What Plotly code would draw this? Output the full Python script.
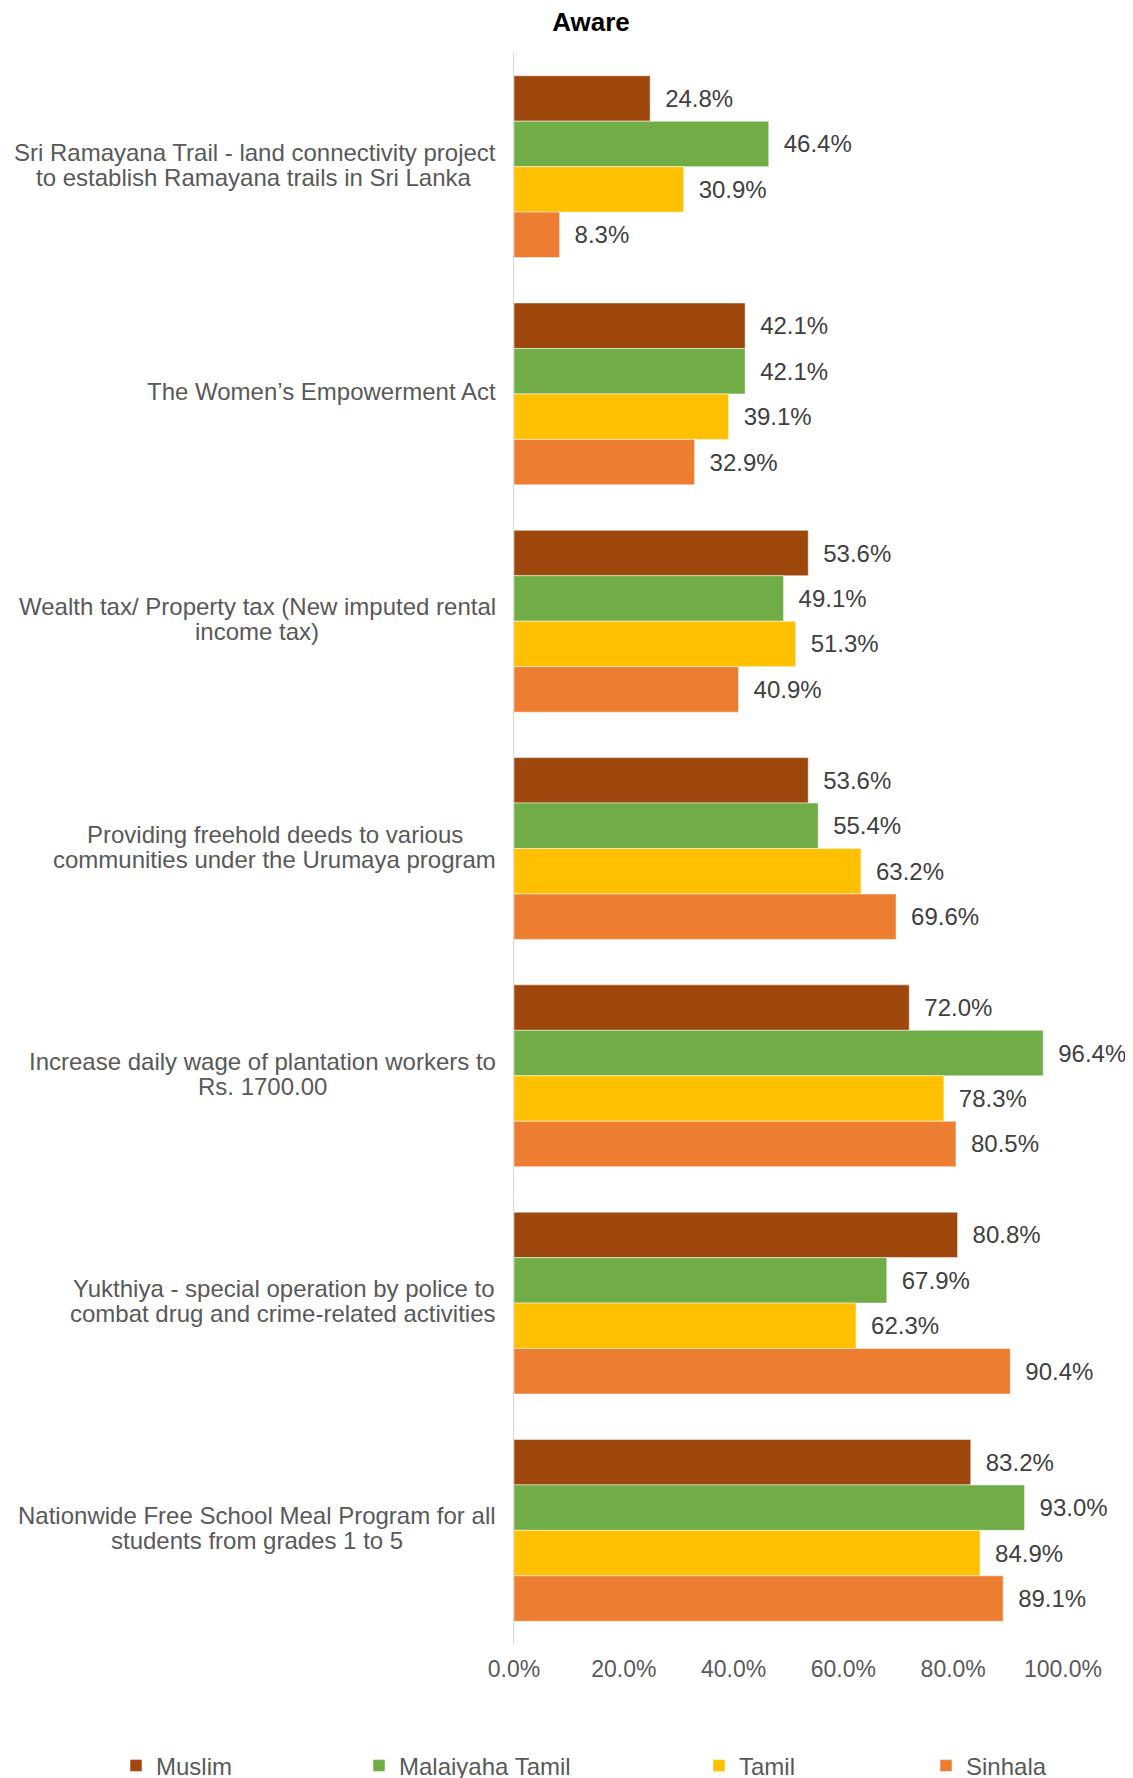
import plotly.graph_objects as go

categories = [
    "Sri Ramayana Trail - land connectivity project<br>to establish Ramayana trails in Sri Lanka",
    "The Women’s Empowerment Act",
    "Wealth tax/ Property tax (New imputed rental<br>income tax)",
    "Providing freehold deeds to various<br>communities under the Urumaya program",
    "Increase daily wage of plantation workers to<br>Rs. 1700.00",
    "Yukthiya - special operation by police to<br>combat drug and crime-related activities",
    "Nationwide Free School Meal Program for all<br>students from grades 1 to 5",
]

series_names = ["Muslim", "Malaiyaha Tamil", "Tamil", "Sinhala"]
muslim = [24.8, 42.1, 53.6, 53.6, 72.0, 80.8, 83.2]
malaiyaha_tamil = [46.4, 42.1, 49.1, 55.4, 96.4, 67.9, 93.0]
tamil = [30.9, 39.1, 51.3, 63.2, 78.3, 62.3, 84.9]
sinhala = [8.3, 32.9, 40.9, 69.6, 80.5, 90.4, 89.1]
series_values = [muslim, malaiyaha_tamil, tamil, sinhala]
colors = ["#9E480E", "#70AD47", "#FFC000", "#ED7D31"]

tick_vals = [0, 0.2, 0.4, 0.6, 0.8, 1.0]

FONT = "Liberation Sans, Arial, Helvetica, sans-serif"
W, H = 1133, 1778
OFF = 8  # page body margin
L, R, T, B = 514 - OFF, 70 + OFF, 53 - OFF, 134 + OFF

legend_text_x = [158, 401, 741, 968]
LABEL_SIZE = 24

# Arial / Liberation Sans advance widths (per 1000 em) used to centre wrapped label lines
_W = {" ": 278, "-": 333, ".": 278, "/": 278, "(": 333, ")": 333, "’": 222, "'": 191}
_W.update({d: 556 for d in "0123456789"})
_W.update(dict(zip("ABCDEFGHIJKLMNOPQRSTUVWXYZ",
                   [667, 667, 722, 722, 667, 611, 778, 722, 278, 500, 667, 556, 833,
                    722, 778, 667, 778, 722, 667, 611, 722, 667, 944, 667, 667, 611])))
_W.update(dict(zip("abcdefghijklmnopqrstuvwxyz",
                   [556, 556, 500, 556, 556, 278, 556, 556, 222, 222, 500, 222, 833,
                    556, 556, 556, 556, 333, 500, 278, 556, 500, 722, 500, 500, 500])))


def text_width(s, size):
    return sum(_W.get(c, 556) for c in s) * size / 1000.0


fig = go.Figure()
for i, (name, vals, col) in enumerate(zip(series_names, series_values, colors)):
    lg = "legend" if i == 0 else f"legend{i+1}"
    fig.add_trace(go.Bar(
        y=categories,
        x=[v / 100 for v in vals],
        name=name,
        orientation="h",
        marker=dict(color=col, line=dict(color="white", width=0.5)),
        texttemplate="\u2002%{x:.1%}",
        textposition="outside",
        textfont=dict(family=FONT, size=24, color="#404040"),
        cliponaxis=False,
        legend=lg,
    ))

legends = {}
for i in range(4):
    key = "legend" if i == 0 else f"legend{i+1}"
    legends[key] = dict(
        xref="container", yref="container",
        x=(legend_text_x[i] - 42 - OFF) / W, xanchor="left",
        y=1 - (1766 - OFF) / H, yanchor="middle",
        orientation="h",
        font=dict(family=FONT, size=24, color="#595959"),
        bgcolor="rgba(0,0,0,0)",
        itemclick=False,
    )

# Category labels: one annotation per line, lines centred on each other,
# block right-aligned next to the axis, with tight line spacing.
line_spacing = 25.0
for cat in categories:
    lines = cat.split("<br>")
    n = len(lines)
    widths = [text_width(ln, LABEL_SIZE) for ln in lines]
    wmax = max(widths)
    for k, ln in enumerate(lines):
        fig.add_annotation(
            x=0, xref="paper", y=cat, yref="y",
            text=ln, showarrow=False,
            xanchor="right", yanchor="middle", align="right",
            xshift=-16 - (wmax - widths[k]) / 2,
            yshift=((n - 1) / 2 - k) * line_spacing + 2,
            font=dict(family=FONT, size=LABEL_SIZE, color="#595959"),
        )

fig.update_layout(
    width=W, height=H,
    margin=dict(l=L, r=R, t=T, b=B, pad=0),
    paper_bgcolor="white", plot_bgcolor="white",
    barmode="group", bargap=0.2, bargroupgap=0,
    title=dict(text="<b>Aware</b>", x=(591 - OFF) / W, xanchor="center",
               y=1 - (22 - OFF) / H, yanchor="middle", xref="container", yref="container",
               font=dict(family=FONT, size=26, color="black")),
    showlegend=True,
    **legends,
)
fig.update_xaxes(range=[0, 1.0], tickvals=tick_vals, tickformat=".1%",
                 showgrid=False, zeroline=False, showline=False, ticks="",
                 ticklabelstandoff=9,
                 tickfont=dict(family=FONT, size=23, color="#595959"))
fig.update_yaxes(autorange="reversed", showticklabels=False, showgrid=False,
                 showline=True, linecolor="#d9d9d9", linewidth=1, ticks="",
                 zeroline=False)

fig.write_html("out.html")
